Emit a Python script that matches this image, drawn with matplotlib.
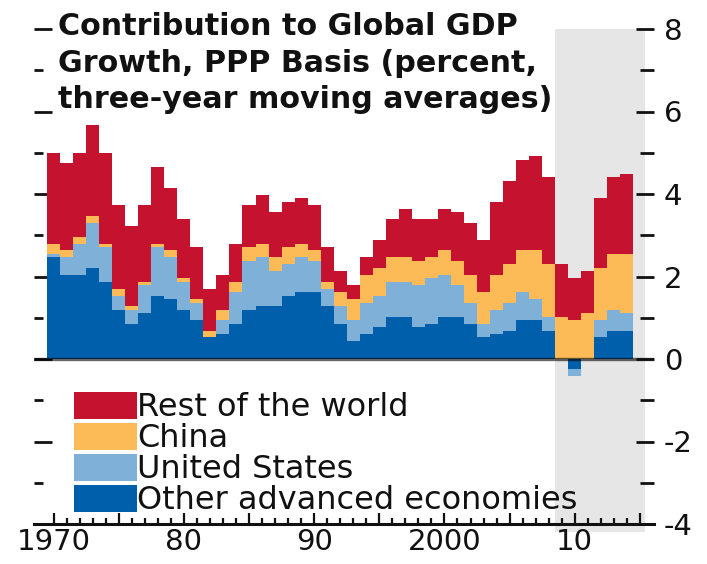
import numpy as np
import matplotlib
matplotlib.use("Agg")
import matplotlib.pyplot as plt
from matplotlib.patches import Rectangle

plt.rcParams['font.family'] = ['DejaVu Sans']
plt.rcParams['axes.unicode_minus'] = False

# ---- data (three-year moving averages, percentage points) ----
years = list(range(1970, 2015))
other_adv = [2.47, 2.03, 2.03, 2.20, 1.86, 1.19, 0.85, 1.11, 1.53, 1.45,
             1.19, 0.94, 0.53, 0.61, 0.85, 1.19, 1.28, 1.28, 1.53, 1.62,
             1.62, 1.28, 0.85, 0.44, 0.61, 0.77, 1.02, 1.02, 0.77, 0.85,
             1.02, 1.02, 0.85, 0.53, 0.61, 0.68, 0.94, 0.94, 0.68, 0.00,
             -0.24, 0.00, 0.53, 0.68, 0.68]
united_states = [0.07, 0.44, 0.75, 1.09, 0.85, 0.34, 0.34, 0.68, 1.18, 1.02,
                 0.67, 0.42, 0.00, 0.33, 0.77, 1.18, 1.19, 0.85, 0.77, 0.85,
                 0.75, 0.41, 0.43, 0.50, 0.75, 0.76, 0.84, 0.84, 1.02, 1.11,
                 1.01, 0.77, 0.51, 0.32, 0.58, 0.68, 0.68, 0.51, 0.34, 0.00,
                 -0.17, 0.00, 0.41, 0.51, 0.43]
china = [0.24, 0.17, 0.17, 0.17, 0.07, 0.16, 0.09, 0.07, 0.07, 0.17,
         0.10, 0.09, 0.15, 0.25, 0.24, 0.34, 0.31, 0.34, 0.41, 0.31,
         0.27, 0.17, 0.34, 0.51, 0.67, 0.67, 0.61, 0.61, 0.58, 0.51,
         0.61, 0.58, 0.67, 0.77, 0.84, 0.94, 1.02, 1.19, 1.28, 1.02,
         0.94, 1.11, 1.26, 1.35, 1.43]
rest_of_world = [2.21, 2.11, 2.04, 2.21, 2.21, 2.04, 1.94, 1.87, 1.87, 1.50,
                 1.43, 1.26, 1.01, 0.84, 0.92, 1.02, 1.19, 1.09, 1.09, 1.12,
                 1.09, 0.85, 0.51, 0.34, 0.44, 0.68, 0.92, 1.16, 1.02, 0.92,
                 0.99, 1.19, 1.26, 1.26, 1.77, 2.01, 2.18, 2.28, 2.11, 1.28,
                 1.02, 1.02, 1.70, 1.87, 1.94]

series_names = ["Other advanced economies", "United States", "China", "Rest of the world"]
series_values = [other_adv, united_states, china, rest_of_world]
series_colors = ["#005faa", "#7eb0d8", "#fdbb57", "#c5132f"]

x_major = [1970, 1975, 1980, 1985, 1990, 1995, 2000, 2005, 2010, 2015]
x_labels = ["1970", "", "80", "", "90", "", "2000", "", "10", ""]
y_major = [-4, -2, 0, 2, 4, 6, 8]
projection_start = 2008.5

# ---- figure ----
W, H = 707, 564
fig = plt.figure(figsize=(W / 100, H / 100), dpi=100)
fx = lambda px: px / W
fy = lambda py: 1 - py / H

ax = fig.add_axes([fx(34), fy(524), 620 / W, 495 / H])
ax.set_xlim(1968.5, 2016.08)
ax.set_ylim(-4, 8)

# projection shading
ax.add_patch(Rectangle((projection_start, -4.2), 2015.4 - projection_start, 12.2,
                       facecolor="#e6e6e6", edgecolor="none", zorder=0, clip_on=False))

edges = np.arange(years[0] - 0.5, years[-1] + 1.0, 1.0)
pos_bottom = np.zeros(len(years))
neg_bottom = np.zeros(len(years))
for vals, col in zip(series_values, series_colors):
    v = np.array(vals, dtype=float)
    bottom = np.where(v >= 0, pos_bottom, neg_bottom)
    top = bottom + v
    ax.stairs(top, edges, baseline=bottom, fill=True, color=col, lw=0, zorder=2)
    pos_bottom = np.where(v >= 0, top, pos_bottom)
    neg_bottom = np.where(v < 0, top, neg_bottom)

ax.axhline(0, color="black", alpha=0.6, lw=2.4, zorder=3)

# spines
for s in ["left", "right", "top"]:
    ax.spines[s].set_visible(False)
ax.spines["bottom"].set_linewidth(2.2)
ax.spines["bottom"].set_color("#111111")

# x ticks
ax.set_xticks(x_major)
ax.set_xticklabels(x_labels)
ax.set_xticks(years + [2015], minor=True)
ax.tick_params(axis="x", which="major", direction="in", length=8, width=1.6,
               labelsize=21, pad=3, colors="#111111")
ax.tick_params(axis="x", which="minor", direction="in", length=4, width=1.6, colors="#111111")

# left y ticks (no labels)
ax.set_yticks(y_major)
ax.set_yticks(list(range(-3, 8, 2)), minor=True)
ax.tick_params(axis="y", which="major", direction="in", length=13, width=2,
               left=True, right=False, labelleft=False, colors="#111111")
ax.tick_params(axis="y", which="minor", direction="in", length=6.5, width=2,
               left=True, right=False, colors="#111111")

# right y axis
ax2 = ax.twinx()
ax2.set_ylim(-4, 8)
for s in ["left", "right", "top", "bottom"]:
    ax2.spines[s].set_visible(False)
ax2.set_yticks(y_major)
ax2.set_yticklabels([str(v) for v in y_major])
ax2.set_yticks(list(range(-3, 8, 2)), minor=True)
ax2.tick_params(axis="y", which="major", direction="in", length=13, width=2,
                labelsize=21, pad=7, colors="#111111")
ax2.tick_params(axis="y", which="minor", direction="in", length=10, width=2, colors="#111111")

# title
title_lines = ["Contribution to Global GDP",
               "Growth, PPP Basis (percent,",
               "three-year moving averages)"]
for line, base in zip(title_lines, [35, 72, 108]):
    fig.text(fx(58), fy(base), line, fontsize=21.7, fontweight="bold",
             va="baseline", ha="left", color="#111111")

# legend (drawn manually to match the tight spacing)
leg_order = [3, 2, 1, 0]
tops = [392, 423, 454, 485]
for i, top in zip(leg_order, tops):
    fig.patches.append(Rectangle((fx(74), fy(top + 27)), 63 / W, 27 / H,
                                 transform=fig.transFigure, facecolor=series_colors[i],
                                 edgecolor="none"))
    fig.text(fx(137), fy(top + 24), series_names[i], fontsize=23,
             va="baseline", ha="left", color="#111111")

fig.savefig("out.png", dpi=100)
